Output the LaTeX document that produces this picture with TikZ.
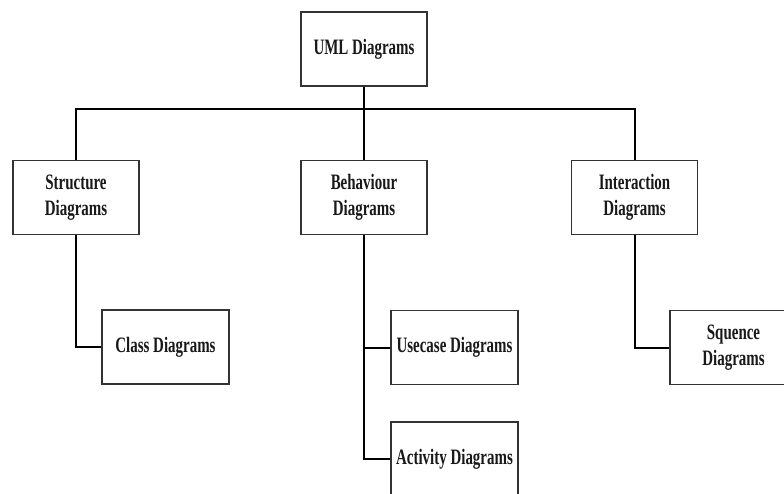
\documentclass[tikz,border=0pt]{standalone}
\usepackage{fontspec}
\setmainfont{Liberation Serif}[FakeStretch=0.68]
\begin{document}
\begin{tikzpicture}[x=1pt,y=-1pt,
  box/.style={draw=black!80,line width=1.3pt,fill=white,minimum width=126pt,minimum height=74pt,
    align=center,inner sep=0pt,font=\fontsize{22}{26.5}\selectfont\bfseries,text=black!90},
  conn/.style={line width=2pt,black}]
\useasboundingbox (0,0) rectangle (784,493);
\clip (0,0) rectangle (784,493);
\node[box] (uml) at (364,49) {UML Diagrams};
\node[box] (str) at (76,197.5) {Structure\\Diagrams};
\node[box] (beh) at (364,197.5) {Behaviour\\Diagrams};
\node[box] (int) at (634.5,197.5) {Interaction\\Diagrams};
\node[box,minimum width=127pt] (cls) at (165.5,347) {Class Diagrams};
\node[box,minimum width=127pt] (use) at (454.5,347.5) {Usecase Diagrams};
\node[box,minimum width=127pt] (act) at (454.5,459) {Activity Diagrams};
\node[box,minimum width=127pt] (seq) at (733.5,347.5) {Squence\\Diagrams};
\coordinate (bus) at (364,109);
\draw[conn] (uml.south) -- (bus);
\draw[conn] (str.north) |- (bus) -| (int.north);
\draw[conn] (bus) -- (beh.north);
\draw[conn] (str.south) |- (cls.west);
\draw[conn] (beh.south) |- (act.west);
\draw[conn] (beh.south |- use.west) -- (use.west);
\draw[conn] (int.south) |- (seq.west);
\end{tikzpicture}
\end{document}
